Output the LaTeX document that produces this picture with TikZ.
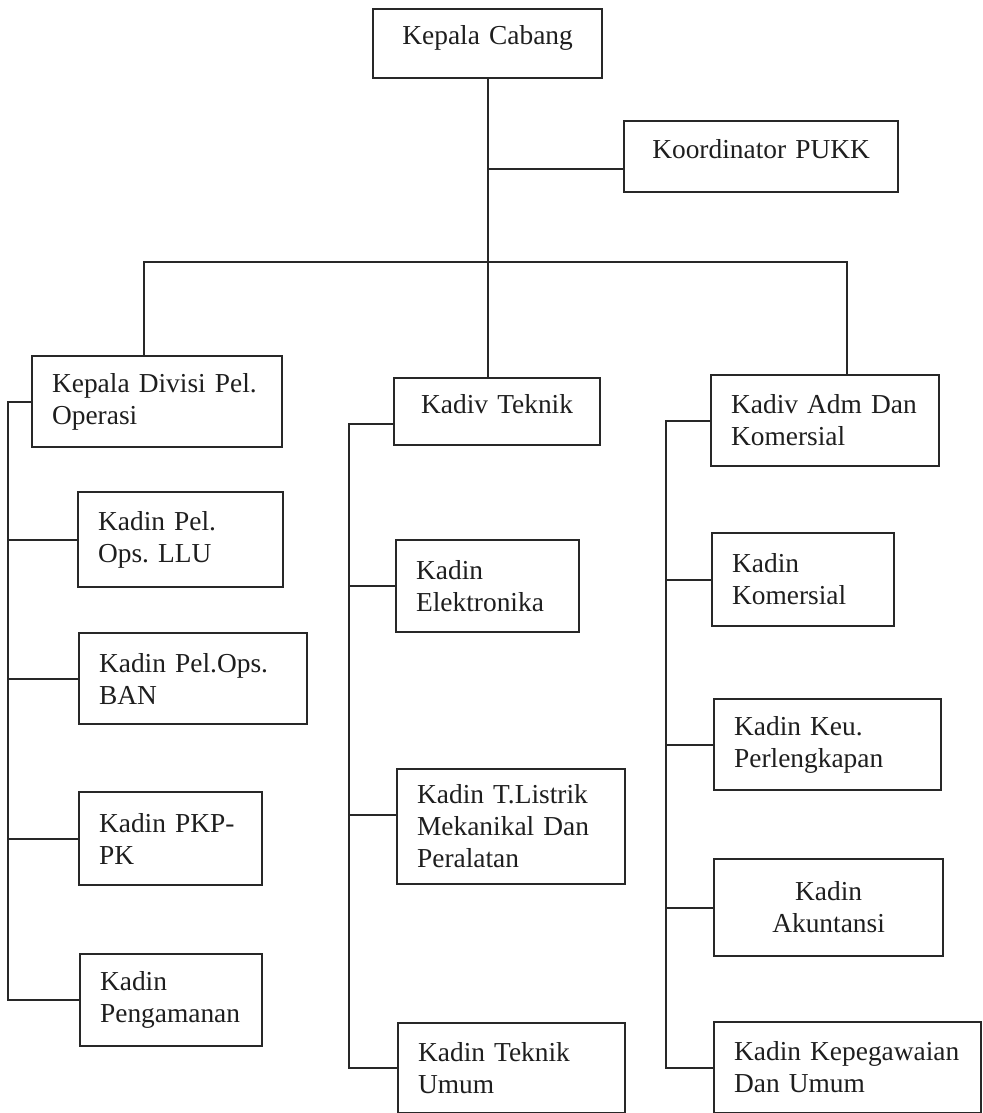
\documentclass[tikz,border=0pt]{standalone}
\usepackage{fontspec}
\setmainfont{Liberation Serif}
\definecolor{linec}{RGB}{40,40,40}
\definecolor{txtc}{RGB}{30,30,30}
\frenchspacing
\begin{document}
\begin{tikzpicture}[x=1pt,y=-1pt,
  line width=2.2pt, draw=linec,
  ob/.style={draw=linec, rectangle, anchor=north west, inner xsep=20pt, inner ysep=0pt,
    align=left, text=txtc,
    font={\fontsize{27.4}{32}\selectfont\frenchspacing\hyphenpenalty=10000\exhyphenpenalty=10000}},
  obc/.style={ob, align=center},
  single/.style={obc, text depth=16pt}]
\useasboundingbox (0,0) rectangle (982,1113);
% top
\node[single, text depth=18pt, text width=189pt, minimum height=69pt] (kc) at (372,8) {Kepala Cabang};
\node[single, text width=234pt, minimum height=71pt] (pukk) at (623,120) {Koordinator PUKK};
% division heads
\node[ob, text width=210pt, minimum height=91pt] (kdo) at (31,355) {Kepala Divisi Pel.\\Operasi};
\node[single, text width=166pt, minimum height=67pt] (kt) at (393,377) {Kadiv Teknik};
\node[ob, text width=188pt, minimum height=91pt] (kda) at (710,374) {Kadiv Adm Dan\\Komersial};
% left column
\node[ob, text width=165pt, minimum height=95pt] (llu) at (77,491) {Kadin Pel.\\Ops. LLU};
\node[ob, text width=188pt, minimum height=91pt] (ban) at (78,632) {Kadin Pel.Ops.\\BAN};
\node[ob, text width=143pt, minimum height=93pt] (pkp) at (78,791) {Kadin PKP-\\PK};
\node[ob, text width=142pt, minimum height=92pt] (peng) at (79,953) {Kadin\\Pengamanan};
% middle column
\node[ob, text width=143pt, minimum height=92pt] (el) at (395,539) {Kadin\\Elektronika};
\node[ob, text width=188pt, minimum height=115pt] (tl) at (396,768) {Kadin T.Listrik\\Mekanikal Dan\\Peralatan};
\node[ob, text width=187pt, minimum height=90pt] (tu) at (397,1022) {Kadin Teknik\\Umum};
% right column
\node[ob, text width=142pt, minimum height=93pt] (kom) at (711,532) {Kadin\\Komersial};
\node[ob, text width=187pt, minimum height=91pt] (keu) at (713,698) {Kadin Keu.\\Perlengkapan};
\node[obc, text width=189pt, minimum height=97pt] (ak) at (713,858) {Kadin\\Akuntansi};
\node[ob, text width=227pt, minimum height=91pt] (kep) at (713,1021) {Kadin Kepegawaian\\Dan Umum};
% trunk and top connectors
\draw (kc.south) -- (kc.south |- kt.north);
\coordinate (pj) at ([yshift=-12.5pt]pukk.west);
\draw (kc.south |- pj) -- (pj);
\coordinate (bl) at (144,262);
\coordinate (br) at (847,262);
\draw (bl |- kdo.north) -- (bl) -- (br) -- (br |- kda.north);
% left rail
\coordinate (lr) at (8,0);
\draw (kdo.west) -- (lr |- kdo.west) -- (lr |- peng.west) -- (peng.west);
\foreach \n in {llu,ban,pkp} \draw (lr |- \n.west) -- (\n.west);
% middle rail
\coordinate (mr) at (349,0);
\coordinate (ktj) at ([yshift=-12.5pt]kt.west);
\coordinate (tlj) at ([yshift=11.5pt]tl.west);
\draw (ktj) -- (mr |- ktj) -- (mr |- tu.west) -- (tu.west);
\draw (mr |- el.west) -- (el.west);
\draw (mr |- tlj) -- (tlj);
% right rail
\coordinate (rr) at (666,0);
\draw (kda.west) -- (rr |- kda.west) -- (rr |- kep.west) -- (kep.west);
\foreach \n in {kom,keu,ak} \draw (rr |- \n.west) -- (\n.west);
\end{tikzpicture}
\end{document}
